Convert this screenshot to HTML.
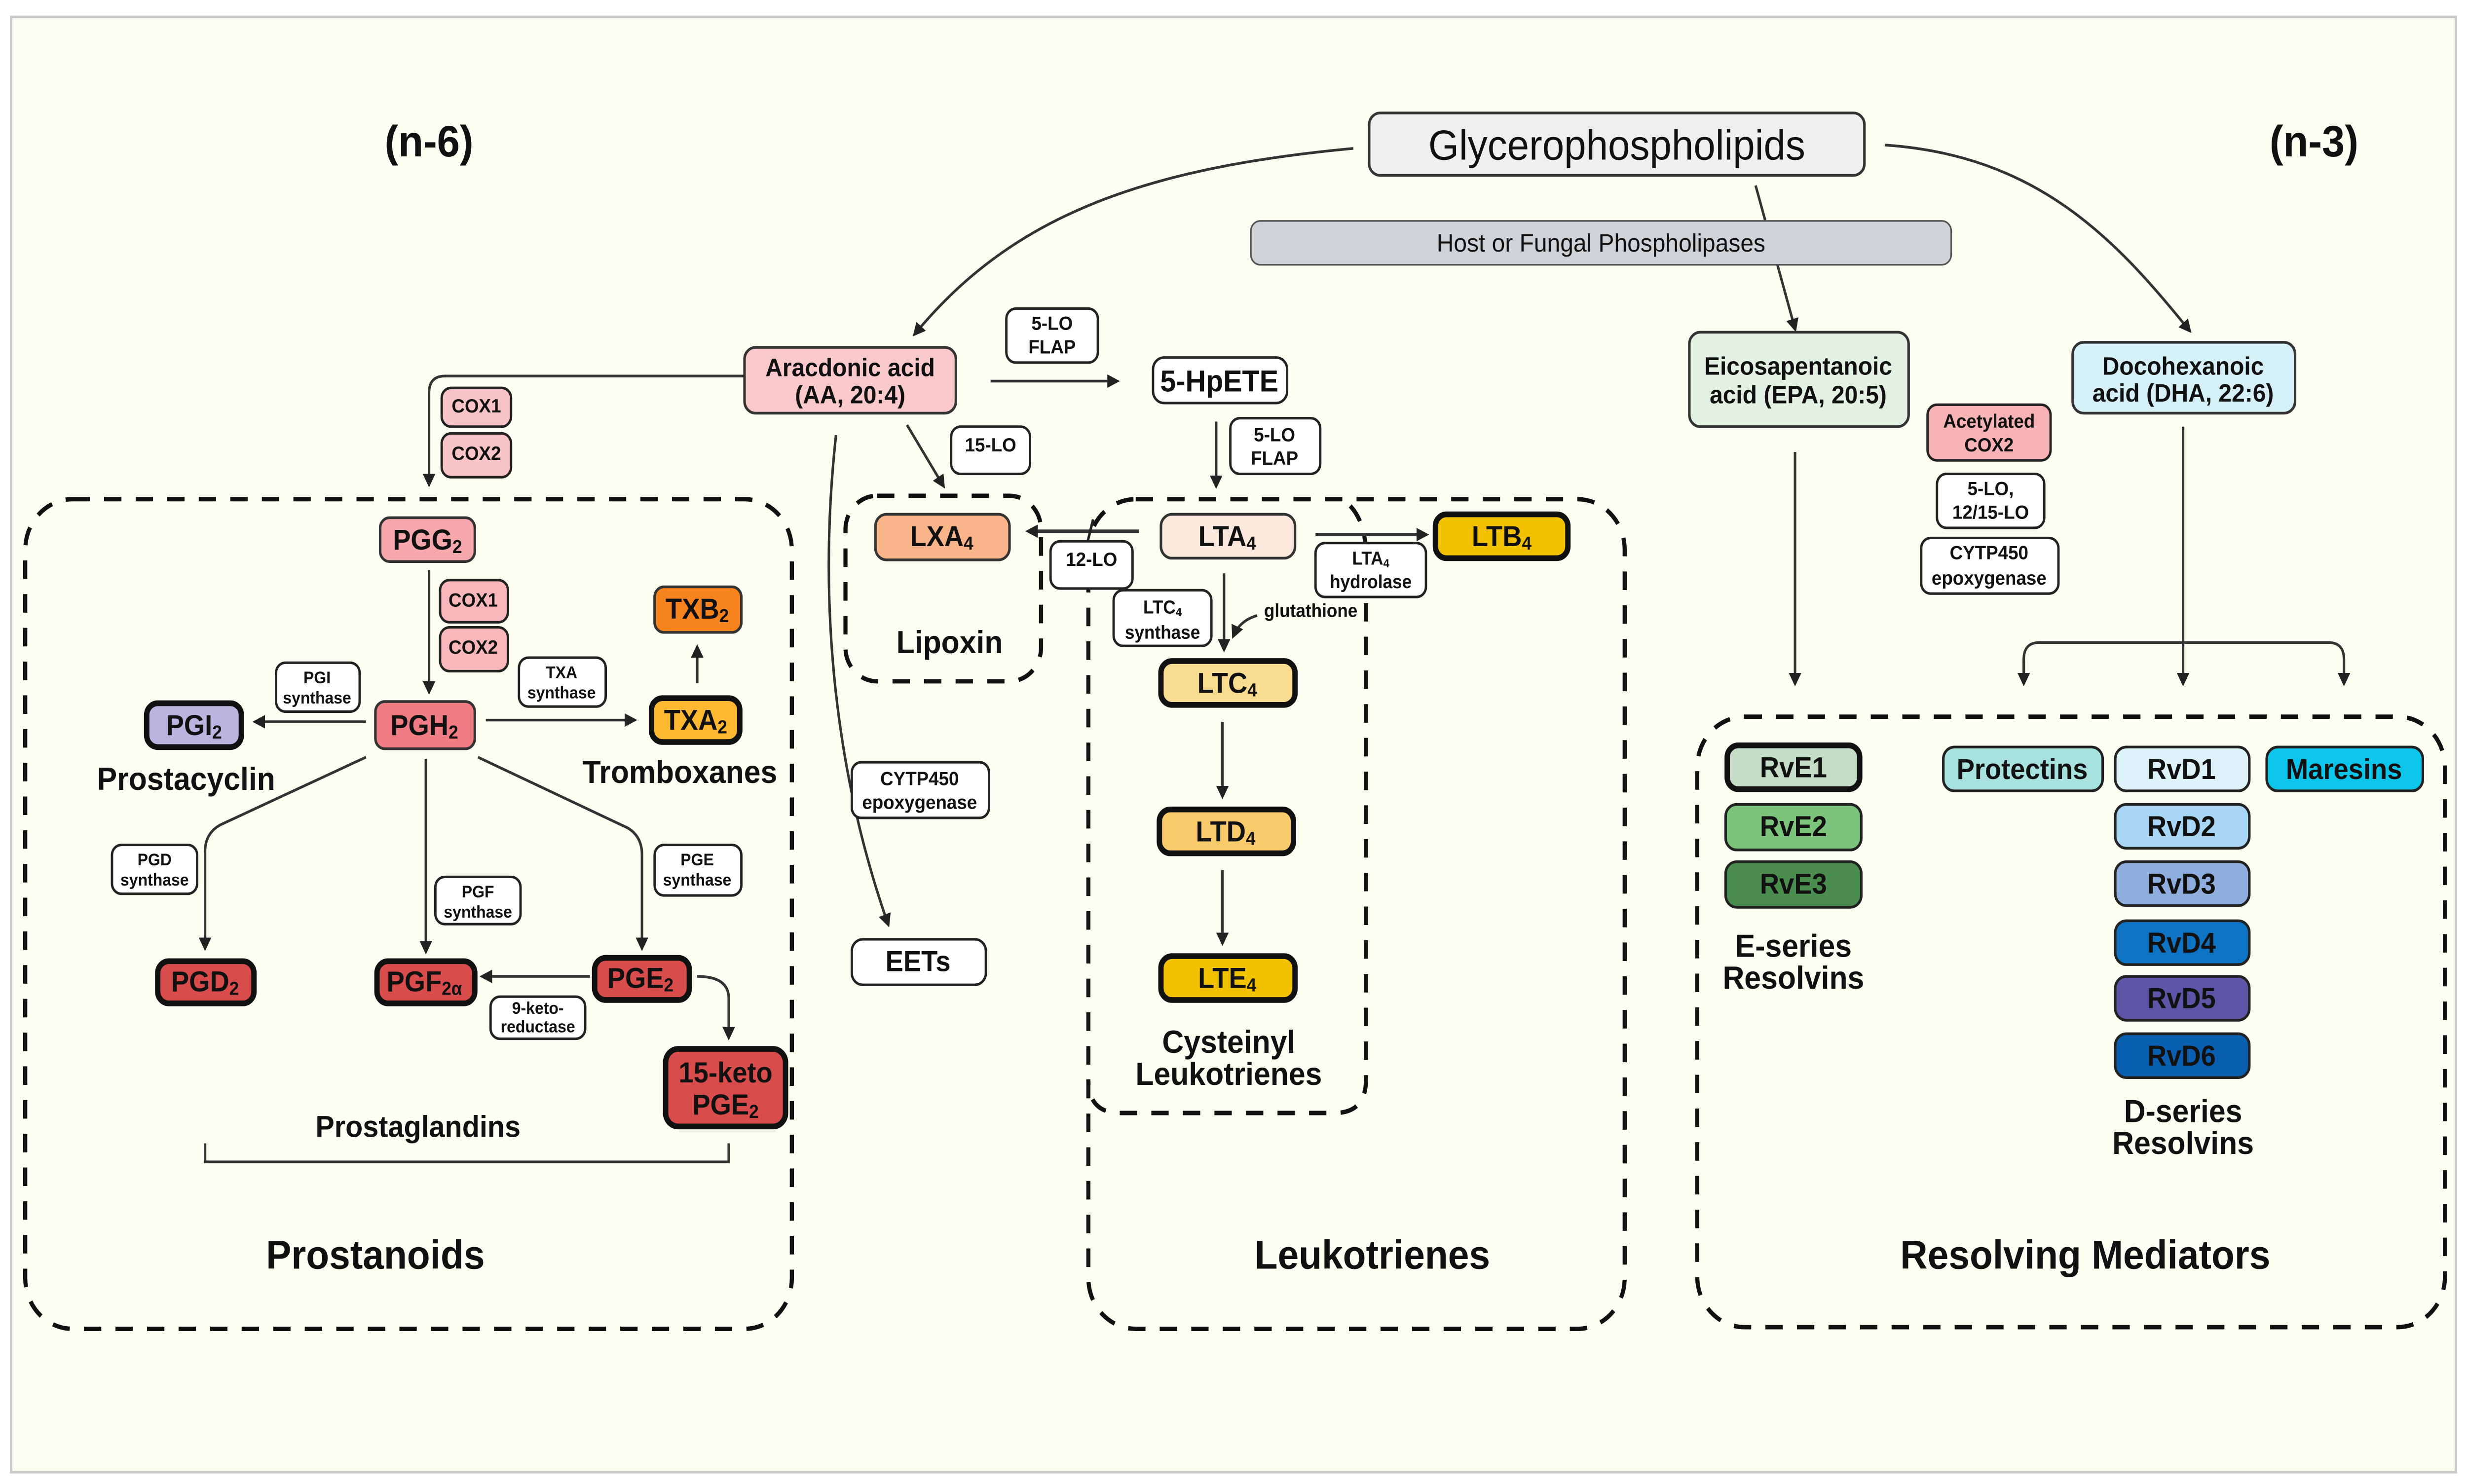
<!DOCTYPE html>
<html><head><meta charset="utf-8"><style>
html,body{margin:0;padding:0;background:#fff;overflow:hidden;width:100vw;height:100vh}
svg{display:block;width:100vw;height:100vh}
text{font-family:"Liberation Sans Narrow","Liberation Sans",sans-serif;font-weight:bold;fill:#111;text-anchor:middle;dominant-baseline:central}
.n{fill:#fff;stroke:#222;stroke-width:1.5}
.lb{font-size:11.5px}
.ln{fill:none;stroke:#333;stroke-width:1.6}
.d{fill:none;stroke:#111;stroke-width:2.6;stroke-dasharray:11 9}
.t{stroke:#111;stroke-width:3.4}
.m{stroke:#222;stroke-width:1.6}
</style></head><body>
<svg viewBox="0 0 1564 880" preserveAspectRatio="none" xmlns="http://www.w3.org/2000/svg">
<defs><marker id="a" markerWidth="8" markerHeight="8" refX="6" refY="4" orient="auto" markerUnits="userSpaceOnUse"><path d="M0,0 L8,4 L0,8 z" fill="#222"/></marker></defs>
<rect x="0" y="0" width="1564" height="880" fill="#fff"/>
<rect x="7" y="10" width="1550" height="863" fill="#fdfdf2" stroke="#c8c8c8" stroke-width="1.5"/>

<text x="272" y="84" style="font-size:26px">(n-6)</text>
<text x="1467" y="84" style="font-size:26px">(n-3)</text>

<path class="ln" d="M858,88 C720,100 640,130 580,198" marker-end="url(#a)"/>
<path class="ln" d="M1195,86 C1290,92 1340,140 1388,196" marker-end="url(#a)"/>
<path class="ln" d="M1113,110 L1138,195" marker-end="url(#a)"/>
<rect x="868" y="67" width="314" height="37" rx="7" fill="#efefef" stroke="#333" stroke-width="1.6"/>
<text x="1025" y="86" style="font-size:25px;font-weight:normal;font-family:'Liberation Sans',sans-serif">Glycerophospholipids</text>
<rect x="793" y="131" width="444" height="26" rx="6" fill="#d0d3d6" stroke="#555" stroke-width="1"/>
<text x="1015" y="144" style="font-size:15px;font-weight:normal;font-family:'Liberation Sans',sans-serif">Host or Fungal  Phospholipases</text>

<path class="ln" d="M472,223 L282,223 Q272,223 272,233 L272,287" marker-end="url(#a)"/>
<rect x="280" y="230" width="44" height="23" rx="6" fill="#f9c4c7" stroke="#222" stroke-width="1.5"/><text class="lb" x="302" y="241">COX1</text>
<rect x="280" y="257" width="44" height="26" rx="6" fill="#f9c4c7" stroke="#222" stroke-width="1.5"/><text class="lb" x="302" y="269">COX2</text>
<path class="ln" d="M530,258 C518,360 530,460 563,548" marker-end="url(#a)"/>
<path class="ln" d="M575,252 L598,288" marker-end="url(#a)"/>
<path class="ln" d="M628,226 L708,226" marker-end="url(#a)"/>
<rect x="472" y="206" width="134" height="39" rx="7" fill="#f9c9cc" stroke="#333" stroke-width="1.6"/>
<text x="539" y="218" style="font-size:15px">Aracdonic acid</text>
<text x="539" y="234" style="font-size:15px">(AA, 20:4)</text>
<rect class="n" x="638" y="183" width="58" height="32" rx="6"/><text class="lb" x="667" y="192">5-LO</text><text class="lb" x="667" y="206">FLAP</text>
<rect class="n" x="731" y="212" width="85" height="27" rx="7"/><text x="773" y="226" style="font-size:18px">5-HpETE</text>
<path class="ln" d="M771,250 L771,288" marker-end="url(#a)"/>
<rect class="n" x="780" y="248" width="57" height="33" rx="6"/><text class="lb" x="808" y="258">5-LO</text><text class="lb" x="808" y="272">FLAP</text>
<rect class="n" x="603" y="253" width="50" height="28" rx="6"/><text class="lb" x="628" y="264">15-LO</text>
<rect class="n" x="540" y="452" width="87" height="33" rx="6"/><text class="lb" x="583" y="462">CYTP450</text><text class="lb" x="583" y="476">epoxygenase</text>
<rect class="n" x="540" y="557" width="85" height="27" rx="7"/><text x="582" y="570" style="font-size:17px">EETs</text>

<rect class="d" x="16" y="296" width="486" height="492" rx="30"/>
<rect x="241" y="307" width="60" height="26" rx="6" fill="#f7a8ad" stroke="#333" stroke-width="1.6"/><text x="271" y="320" style="font-size:17px">PGG<tspan dy="4" font-size="11">2</tspan></text>
<path class="ln" d="M272,338 L272,410" marker-end="url(#a)"/>
<rect x="279" y="344" width="43" height="25" rx="6" fill="#f8b8bb" stroke="#222" stroke-width="1.5"/><text class="lb" x="300" y="356">COX1</text>
<rect x="279" y="372" width="43" height="26" rx="6" fill="#f8b8bb" stroke="#222" stroke-width="1.5"/><text class="lb" x="300" y="384">COX2</text>
<rect x="238" y="416" width="63" height="28" rx="6" fill="#ef7c82" stroke="#333" stroke-width="1.6"/><text x="269" y="430" style="font-size:17px">PGH<tspan dy="4" font-size="11">2</tspan></text>
<path class="ln" d="M232,428 L162,428" marker-end="url(#a)"/>
<rect class="n" x="175" y="393" width="53" height="29" rx="6"/><text x="201" y="402" style="font-size:10px">PGI</text><text x="201" y="414" style="font-size:10px">synthase</text>
<rect class="t" x="93" y="417" width="60" height="26" rx="7" fill="#bab5e0"/><text x="123" y="430" style="font-size:17px">PGI<tspan dy="4" font-size="11">2</tspan></text>
<text x="118" y="462" style="font-size:19px">Prostacyclin</text>
<path class="ln" d="M308,427 L402,427" marker-end="url(#a)"/>
<rect class="n" x="329" y="390" width="55" height="29" rx="6"/><text x="356" y="399" style="font-size:10px">TXA</text><text x="356" y="411" style="font-size:10px">synthase</text>
<rect class="t" x="413" y="414" width="56" height="26" rx="7" fill="#fbb830"/><text x="441" y="427" style="font-size:17px">TXA<tspan dy="4" font-size="11">2</tspan></text>
<rect x="415" y="348" width="55" height="27" rx="6" fill="#f6831e" stroke="#333" stroke-width="1.6"/><text x="442" y="361" style="font-size:17px">TXB<tspan dy="4" font-size="11">2</tspan></text>
<path class="ln" d="M442,405 L442,384" marker-end="url(#a)"/>
<text x="431" y="458" style="font-size:19px">Tromboxanes</text>
<path class="ln" d="M232,449 L140,489 Q130,494 130,505 L130,562" marker-end="url(#a)"/>
<path class="ln" d="M270,450 L270,564" marker-end="url(#a)"/>
<path class="ln" d="M303,449 L398,491 Q407,496 407,507 L407,562" marker-end="url(#a)"/>
<rect class="n" x="71" y="501" width="54" height="29" rx="6"/><text x="98" y="510" style="font-size:10px">PGD</text><text x="98" y="522" style="font-size:10px">synthase</text>
<rect class="n" x="276" y="520" width="54" height="28" rx="6"/><text x="303" y="529" style="font-size:10px">PGF</text><text x="303" y="541" style="font-size:10px">synthase</text>
<rect class="n" x="415" y="501" width="55" height="30" rx="6"/><text x="442" y="510" style="font-size:10px">PGE</text><text x="442" y="522" style="font-size:10px">synthase</text>
<rect class="t" x="100" y="570" width="61" height="25" rx="7" fill="#d94c4c"/><text x="130" y="582" style="font-size:17px">PGD<tspan dy="4" font-size="11">2</tspan></text>
<rect class="t" x="239" y="570" width="62" height="25" rx="7" fill="#d94c4c"/><text x="269" y="582" style="font-size:17px">PGF<tspan dy="4" font-size="11">2α</tspan></text>
<rect class="t" x="377" y="568" width="60" height="25" rx="7" fill="#d94c4c"/><text x="406" y="580" style="font-size:17px">PGE<tspan dy="4" font-size="11">2</tspan></text>
<path class="ln" d="M374,579 L306,579" marker-end="url(#a)"/>
<rect class="n" x="311" y="591" width="60" height="25" rx="6"/><text x="341" y="598" style="font-size:10px">9-keto-</text><text x="341" y="609" style="font-size:10px">reductase</text>
<path class="ln" d="M442,579 Q462,579 462,592 L462,615" marker-end="url(#a)"/>
<rect class="t" x="422" y="622" width="76" height="46" rx="8" fill="#d94c4c"/><text x="460" y="636" style="font-size:17px">15-keto</text><text x="460" y="655" style="font-size:17px">PGE<tspan dy="4" font-size="11">2</tspan></text>
<text x="265" y="668" style="font-size:18px">Prostaglandins</text>
<path class="ln" d="M130,678 L130,689 L462,689 L462,678"/>
<text x="238" y="744" style="font-size:24px">Prostanoids</text>

<rect class="d" x="536" y="294" width="124" height="110" rx="20"/>
<rect class="d" x="690" y="296" width="340" height="492" rx="30"/>
<path class="d" d="M856,300 Q866,310 866,330 L866,640 Q866,660 846,660 L710,660 Q690,660 690,640"/>
<rect x="555" y="305" width="85" height="27" rx="7" fill="#f9b48a" stroke="#333" stroke-width="1.6"/><text x="597" y="318" style="font-size:17px">LXA<tspan dy="4" font-size="11">4</tspan></text>
<text x="602" y="381" style="font-size:19px">Lipoxin</text>
<path class="ln" d="M722,315 L652,315" marker-end="url(#a)" style="stroke-width:2"/>
<path class="m" d="M693,308 L688,327"/>
<rect class="n" x="666" y="321" width="52" height="28" rx="6"/><text class="lb" x="692" y="332">12-LO</text>
<rect x="736" y="305" width="85" height="26" rx="7" fill="#fde8de" stroke="#333" stroke-width="1.6"/><text x="778" y="318" style="font-size:17px">LTA<tspan dy="4" font-size="11">4</tspan></text>
<path class="ln" d="M834,317 L904,317" marker-end="url(#a)" style="stroke-width:2"/>
<rect class="t" x="910" y="305" width="84" height="26" rx="7" fill="#f2c200"/><text x="952" y="318" style="font-size:17px">LTB<tspan dy="4" font-size="11">4</tspan></text>
<rect class="n" x="834" y="322" width="70" height="32" rx="6"/><text x="869" y="331" style="font-size:11px">LTA<tspan dy="3" font-size="7">4</tspan></text><text x="869" y="345" style="font-size:11px">hydrolase</text>
<path class="ln" d="M776,340 L776,385" marker-end="url(#a)"/>
<rect class="n" x="706" y="350" width="62" height="33" rx="6"/><text x="737" y="360" style="font-size:11px">LTC<tspan dy="3" font-size="7">4</tspan></text><text x="737" y="375" style="font-size:11px">synthase</text>
<text x="831" y="362" style="font-size:11px">glutathione</text>
<path class="ln" d="M797,365 Q786,368 782,377" marker-end="url(#a)"/>
<rect class="t" x="736" y="392" width="85" height="26" rx="7" fill="#f8dd90"/><text x="778" y="405" style="font-size:17px">LTC<tspan dy="4" font-size="11">4</tspan></text>
<path class="ln" d="M775,428 L775,472" marker-end="url(#a)"/>
<rect class="t" x="735" y="480" width="85" height="26" rx="7" fill="#f9cb6a"/><text x="777" y="493" style="font-size:17px">LTD<tspan dy="4" font-size="11">4</tspan></text>
<path class="ln" d="M775,516 L775,559" marker-end="url(#a)"/>
<rect class="t" x="736" y="567" width="85" height="26" rx="7" fill="#f2c200"/><text x="778" y="580" style="font-size:17px">LTE<tspan dy="4" font-size="11">4</tspan></text>
<text x="779" y="618" style="font-size:19px">Cysteinyl</text>
<text x="779" y="637" style="font-size:19px">Leukotrienes</text>
<text x="870" y="744" style="font-size:24px">Leukotrienes</text>

<rect x="1071" y="197" width="139" height="56" rx="7" fill="#e3f1e3" stroke="#333" stroke-width="1.6"/>
<text x="1140" y="217" style="font-size:15px">Eicosapentanoic</text><text x="1140" y="234" style="font-size:15px">acid (EPA, 20:5)</text>
<rect x="1314" y="203" width="141" height="42" rx="7" fill="#d5f0f6" stroke="#333" stroke-width="1.6"/>
<text x="1384" y="217" style="font-size:15px">Docohexanoic</text><text x="1384" y="233" style="font-size:15px">acid (DHA, 22:6)</text>
<rect x="1222" y="240" width="78" height="33" rx="6" fill="#f7b2b5" stroke="#222" stroke-width="1.5"/><text class="lb" x="1261" y="250">Acetylated</text><text class="lb" x="1261" y="264">COX2</text>
<rect class="n" x="1228" y="281" width="68" height="32" rx="6"/><text class="lb" x="1262" y="290">5-LO,</text><text class="lb" x="1262" y="304">12/15-LO</text>
<rect class="n" x="1218" y="319" width="87" height="33" rx="6"/><text class="lb" x="1261" y="328">CYTP450</text><text class="lb" x="1261" y="343">epoxygenase</text>
<path class="ln" d="M1138,268 L1138,405" marker-end="url(#a)"/>
<path class="ln" d="M1384,253 L1384,405" marker-end="url(#a)"/>
<path class="ln" d="M1283,405 L1283,391 Q1283,381 1293,381 L1476,381 Q1486,381 1486,391 L1486,405" marker-end="url(#a)"/>
<path class="ln" d="M1283,392 L1283,405" marker-end="url(#a)"/>
<rect class="d" x="1076" y="425" width="474" height="362" rx="30"/>
<rect class="t" x="1095" y="442" width="84" height="26" rx="7" fill="#c5dcc6"/><text x="1137" y="455" style="font-size:17px">RvE1</text>
<rect x="1094" y="477" width="86" height="27" rx="7" fill="#7cc47b" stroke="#222" stroke-width="1.6"/><text x="1137" y="490" style="font-size:17px">RvE2</text>
<rect x="1094" y="511" width="86" height="27" rx="7" fill="#4b8c4f" stroke="#222" stroke-width="1.6"/><text x="1137" y="524" style="font-size:17px">RvE3</text>
<text x="1137" y="561" style="font-size:19px">E-series</text><text x="1137" y="580" style="font-size:19px">Resolvins</text>
<rect x="1232" y="443" width="101" height="26" rx="7" fill="#a8e2df" stroke="#222" stroke-width="1.6"/><text x="1282" y="456" style="font-size:17px">Protectins</text>
<rect x="1341" y="443" width="85" height="26" rx="7" fill="#def3f9" stroke="#222" stroke-width="1.6"/><text x="1383" y="456" style="font-size:17px">RvD1</text>
<rect x="1437" y="443" width="99" height="26" rx="7" fill="#0bc6ea" stroke="#222" stroke-width="1.6"/><text x="1486" y="456" style="font-size:17px">Maresins</text>
<rect x="1341" y="477" width="85" height="26" rx="7" fill="#a9d6f4" stroke="#222" stroke-width="1.6"/><text x="1383" y="490" style="font-size:17px">RvD2</text>
<rect x="1341" y="511" width="85" height="26" rx="7" fill="#8faede" stroke="#222" stroke-width="1.6"/><text x="1383" y="524" style="font-size:17px">RvD3</text>
<rect x="1341" y="546" width="85" height="26" rx="7" fill="#0d73c2" stroke="#222" stroke-width="1.6"/><text x="1383" y="559" style="font-size:17px">RvD4</text>
<rect x="1341" y="579" width="85" height="26" rx="7" fill="#5d55a8" stroke="#222" stroke-width="1.6"/><text x="1383" y="592" style="font-size:17px">RvD5</text>
<rect x="1341" y="613" width="85" height="26" rx="7" fill="#0b5fb0" stroke="#222" stroke-width="1.6"/><text x="1383" y="626" style="font-size:17px">RvD6</text>
<text x="1384" y="659" style="font-size:19px">D-series</text><text x="1384" y="678" style="font-size:19px">Resolvins</text>
<text x="1322" y="744" style="font-size:24px">Resolving Mediators</text>
</svg>
</body></html>
